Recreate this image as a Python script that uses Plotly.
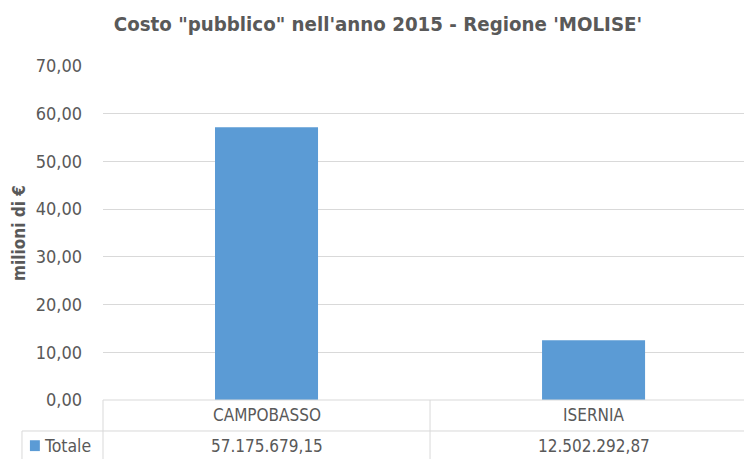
import plotly.graph_objects as go

# Dati
province = ["CAMPOBASSO", "ISERNIA"]
totale_euro = [57175679.15, 12502292.87]
serie_nome = "Totale"
titolo = "Costo \"pubblico\" nell'anno 2015 - Regione 'MOLISE'"

valori_milioni = [v / 1e6 for v in totale_euro]

def fmt_it(v):
    # 57175679.15 -> 57.175.679,15
    s = "{:,.2f}".format(v)
    return s.replace(",", "X").replace(".", ",").replace("X", ".")

FONT = "DejaVu Sans Condensed, Noto Sans, sans-serif"
GRIGIO = "#595959"
LINEA = "#d9d9d9"
BLU = "#5b9bd5"

fig = go.Figure()
fig.add_trace(go.Bar(
    x=list(range(len(province))),
    y=valori_milioni,
    name=serie_nome,
    marker=dict(color=BLU, line=dict(width=0)),
    width=0.315,
    hoverinfo="skip",
))

# griglia della tabella dati (coordinate paper)
y_riga1 = -0.0928   # linea tra categorie e valori
y_fondo = -0.18
x_sin = -0.1264     # bordo sinistro cella legenda

shapes = [
    dict(type="line", xref="paper", yref="paper", x0=0, x1=1, y0=0, y1=0,
         line=dict(color=LINEA, width=1)),
    dict(type="line", xref="paper", yref="paper", x0=x_sin, x1=1, y0=y_riga1, y1=y_riga1,
         line=dict(color=LINEA, width=1)),
    dict(type="line", xref="paper", yref="paper", x0=0, x1=0, y0=0, y1=y_fondo,
         line=dict(color=LINEA, width=1)),
    dict(type="line", xref="paper", yref="paper", x0=x_sin, x1=x_sin, y0=y_riga1, y1=y_fondo,
         line=dict(color=LINEA, width=1)),
]
for i in range(len(province) - 1):
    shapes.append(dict(type="line", xref="x", yref="paper", x0=i + 0.5, x1=i + 0.5,
                       y0=0, y1=y_fondo, line=dict(color=LINEA, width=1)))
# quadratino legenda
shapes.append(dict(type="rect", xref="paper", yref="paper", x0=-0.114, x1=-0.0985,
                   y0=-0.1205, y1=-0.153, fillcolor=BLU, line=dict(width=0)))

annotations = []
for i, (p, v) in enumerate(zip(province, totale_euro)):
    annotations.append(dict(x=i, xref="x", y=-0.046, yref="paper", text=p,
                            showarrow=False, yanchor="middle",
                            font=dict(family=FONT, size=17, color=GRIGIO)))
    annotations.append(dict(x=i, xref="x", y=-0.138, yref="paper", text=fmt_it(v),
                            showarrow=False, yanchor="middle",
                            font=dict(family=FONT, size=17, color=GRIGIO)))
annotations.append(dict(x=-0.095, xref="paper", y=-0.138, yref="paper", text=serie_nome,
                        showarrow=False, xanchor="left", yanchor="middle",
                        font=dict(family=FONT, size=17.5, color=GRIGIO)))

fig.update_layout(
    width=744, height=459,
    margin=dict(l=103, r=0, t=66, b=59),
    paper_bgcolor="white", plot_bgcolor="white",
    separators=",.",
    showlegend=False,
    title=dict(text="<b>" + titolo + "</b>", x=0.508, xref="container", xanchor="center",
               y=0.948, yref="container", yanchor="middle",
               font=dict(family=FONT, size=20.3, color=GRIGIO)),
    xaxis=dict(range=[-0.5, 1.46], showticklabels=False, showgrid=False,
               zeroline=False, showline=False, fixedrange=True),
    yaxis=dict(range=[0, 70], dtick=10, tickformat=".2f", showgrid=True,
               gridcolor=LINEA, zeroline=False, showline=False, ticks="",
               ticklabelstandoff=20,
               tickfont=dict(family=FONT, size=18, color=GRIGIO),
               title=dict(text="<b>milioni di €</b>", standoff=5,
                          font=dict(family=FONT, size=17, color=GRIGIO))),
    shapes=shapes,
    annotations=annotations,
)

fig.write_html("out.html", config={"displayModeBar": False},
               post_script="document.body.style.margin='0';")
